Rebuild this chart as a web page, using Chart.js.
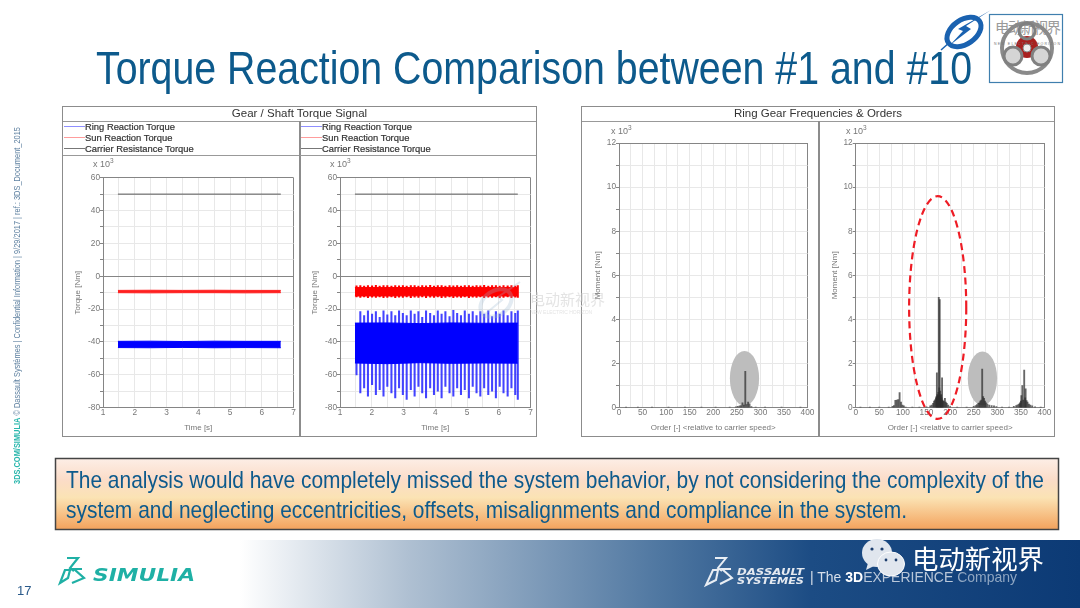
<!DOCTYPE html>
<html>
<head>
<meta charset="utf-8">
<script src="https://cdn.jsdelivr.net/npm/chart.js@4"></script>
<style>
html,body{margin:0;padding:0;background:#fff;overflow:hidden}
#page{position:relative;width:1080px;height:608px;font-family:"Liberation Sans",Arial,sans-serif;filter:blur(.3px)}
#page svg{position:absolute;left:0;top:0}
canvas{position:absolute}
.panel{position:absolute;border:1.5px solid #8c8c8c;background:#fff;box-sizing:border-box}
.head{position:absolute;left:0;right:0;top:0;height:14px;border-bottom:1px solid #999;text-align:center;font-size:11.5px;line-height:13px;color:#333}
.split{position:absolute;top:14px;bottom:0;width:1.5px;background:#8c8c8c}
.legend{position:absolute;top:121px;height:34px;width:236px;border-bottom:1px solid #999;font-size:9.4px;color:#333}
.legend div{position:absolute;left:22px;white-space:nowrap;line-height:11px;-webkit-text-stroke:.2px #333}
.legend i{position:absolute;left:-21px;top:5px;width:21px;height:1px}
.exp{position:absolute;font-size:9px;color:#777;white-space:nowrap}
.exp sup{font-size:6.5px;line-height:0}
.mark{position:absolute;white-space:nowrap;color:#e4e4e4}
</style>
</head>
<body>
<div id="page">
<svg width="1080" height="608" xmlns="http://www.w3.org/2000/svg">
  <defs>
    <linearGradient id="boxFill" x1="0" y1="0" x2="0" y2="1">
      <stop offset="0" stop-color="#fdeee6"/><stop offset=".3" stop-color="#fbdcc8"/>
      <stop offset=".55" stop-color="#fbe3b4"/><stop offset="1" stop-color="#f3a25c"/>
    </linearGradient>
    <linearGradient id="footFill" x1="0" y1="0" x2="1" y2="0">
      <stop offset="0" stop-color="#ffffff"/><stop offset=".2" stop-color="#afc0d2"/>
      <stop offset=".5" stop-color="#4f77a1"/><stop offset=".68" stop-color="#1c4c84"/><stop offset="1" stop-color="#0c3a75"/>
    </linearGradient>
  </defs>
  <text x="96" y="84" font-size="47" fill="#0d5a8c" textLength="876" lengthAdjust="spacingAndGlyphs">Torque Reaction Comparison between #1 and #10</text>

  <!-- top right logo -->
  <ellipse cx="964" cy="32" rx="19" ry="12" transform="rotate(-35 964 32)" fill="none" stroke="#1a62b0" stroke-width="5"/>
  <path d="M991 10 L966 26 L971 29 L950 45 L963 31 L958 29 Z" fill="#1a62b0"/>
  <path d="M950 42 L941 50" stroke="#1a62b0" stroke-width="1.5"/>
  <rect x="989.5" y="14.5" width="73" height="68" fill="#fff" stroke="#3f7fae" stroke-width="1.2"/>
  <text x="995" y="33" font-size="14.5" fill="#9a9a9a" font-family="Noto Sans CJK SC" textLength="66">电动新视界</text>
  <circle cx="1027" cy="48" r="25" fill="none" stroke="#8a8a8a" stroke-width="4"/>
  <circle cx="1027" cy="47" r="11" fill="#a8201f"/>
  <circle cx="1027" cy="31" r="8" fill="none" stroke="#808080" stroke-width="3"/>
  <circle cx="1013" cy="56" r="9" fill="#d5d5d5" stroke="#808080" stroke-width="3"/>
  <circle cx="1041" cy="56" r="9" fill="#d5d5d5" stroke="#808080" stroke-width="3"/>
  <circle cx="1027" cy="48" r="4" fill="#eee" stroke="#888"/>
  <text x="994" y="45" font-size="3.5" fill="#777" textLength="66">NEW ELECTRIC HORIZON</text>

  <!-- side note -->
  <text transform="translate(20,484) rotate(-90)" font-size="8.5" fill="#5c7f9f" textLength="357" lengthAdjust="spacingAndGlyphs"><tspan fill="#2bb7ad" font-weight="bold">3DS.COM/SIMULIA</tspan> © Dassault Systèmes | Confidential Information | 9/29/2017 | ref.: 3DS_Document_2015</text>

  <!-- message box -->
  <rect x="55.5" y="458.5" width="1003" height="71" fill="url(#boxFill)" stroke="#444" stroke-width="1.5"/>
  <text x="66" y="488" font-size="24" fill="#0d5a8c" textLength="978" lengthAdjust="spacingAndGlyphs">The analysis would have completely missed the system behavior, by not considering the complexity of the</text>
  <text x="66" y="518" font-size="24" fill="#0d5a8c" textLength="841" lengthAdjust="spacingAndGlyphs">system and neglecting eccentricities, offsets, misalignments and compliance in the system.</text>

  <!-- footer -->
  <rect x="240" y="540" width="840" height="68" fill="url(#footFill)"/>
  <text x="17" y="595" font-size="13" fill="#2a5a8a">17</text>
  <g fill="none" stroke="#1fb0a5" stroke-width="2.2">
    <path d="M67 558 L78 558 L70 568 L74 571"/><path d="M65 570 L60 583 L68 578 L70 570 Z"/><path d="M82 569 L74 569 L84 578 L72 583"/>
  </g>
  <text x="93" y="581" font-size="17" font-weight="bold" font-style="italic" font-family="DejaVu Sans" fill="#1fb0a5" textLength="102" lengthAdjust="spacingAndGlyphs">SIMULIA</text>
  <g fill="none" stroke="#e9eef4" stroke-width="2">
    <path d="M715 558 L726 558 L718 568 L722 571"/><path d="M713 570 L706 585 L716 580 L718 570 Z"/><path d="M731 569 L722 569 L732 578 L720 584"/>
  </g>
  <text x="737" y="574.5" font-size="9" font-weight="bold" font-style="italic" font-family="DejaVu Sans" fill="#e4e9f0" textLength="67" lengthAdjust="spacingAndGlyphs">DASSAULT</text>
  <text x="737" y="583.5" font-size="9" font-weight="bold" font-style="italic" font-family="DejaVu Sans" fill="#e4e9f0" textLength="67" lengthAdjust="spacingAndGlyphs">SYSTEMES</text>
  <text x="810" y="582" font-size="15" fill="#d7dfea" textLength="207" lengthAdjust="spacingAndGlyphs">| The <tspan font-weight="bold" fill="#fff">3D</tspan><tspan fill="#b9c7d9">EXPERIENCE</tspan><tspan fill="#8fa6c2"> Company</tspan></text>
  <ellipse cx="877" cy="553" rx="15" ry="14" fill="#e0e6ee"/>
  <path d="M868 563 L866 570 L874 566 Z" fill="#e0e6ee"/>
  <ellipse cx="891" cy="564" rx="13.5" ry="12" fill="#e0e6ee" stroke="#fff"/>
  <circle cx="872" cy="549" r="1.6" fill="#1d3f6e"/><circle cx="882" cy="549" r="1.6" fill="#1d3f6e"/>
  <circle cx="886" cy="560" r="1.4" fill="#1d3f6e"/><circle cx="896" cy="560" r="1.4" fill="#1d3f6e"/>
  <text x="912" y="569" font-size="26.4" fill="#fff" font-family="Noto Sans CJK SC">电动新视界</text>
</svg>

<div class="panel" style="left:62px;top:106px;width:475px;height:331px">
  <div class="head">Gear / Shaft Torque Signal</div>
  <div class="split" style="left:236px"></div>
</div>
<div class="panel" style="left:581px;top:106px;width:474px;height:331px">
  <div class="head">Ring Gear Frequencies &amp; Orders</div>
  <div class="split" style="left:236px"></div>
</div>
<div class="legend" style="left:63px">
  <div style="top:0"><i style="background:#8f8fff"></i>Ring Reaction Torque</div>
  <div style="top:11px"><i style="background:#ff9c9c"></i>Sun Reaction Torque</div>
  <div style="top:22px"><i style="background:#777"></i>Carrier Resistance Torque</div>
</div>
<div class="legend" style="left:300px">
  <div style="top:0"><i style="background:#8f8fff"></i>Ring Reaction Torque</div>
  <div style="top:11px"><i style="background:#ff9c9c"></i>Sun Reaction Torque</div>
  <div style="top:22px"><i style="background:#777"></i>Carrier Resistance Torque</div>
</div>
<span class="exp" style="left:93px;top:159px">x 10<sup>3</sup></span>
<span class="exp" style="left:330px;top:159px">x 10<sup>3</sup></span>
<span class="exp" style="left:611px;top:126px">x 10<sup>3</sup></span>
<span class="exp" style="left:846px;top:126px">x 10<sup>3</sup></span>

<!-- watermark text sits under the chart canvases -->
<span class="mark" style="left:530px;top:290px;font-size:15px;font-family:'Noto Sans CJK SC';line-height:17px">电动新视界</span>
<span class="mark" style="left:530px;top:309px;font-size:5px;line-height:6px">NEW ELECTRIC HORIZON</span>

<canvas id="c1" width="235" height="279" style="left:63px;top:156px"></canvas>
<canvas id="c2" width="235" height="279" style="left:300px;top:156px"></canvas>
<canvas id="c3" width="235" height="313" style="left:582px;top:122px"></canvas>
<canvas id="c4" width="235" height="313" style="left:819px;top:122px"></canvas>

<svg width="1080" height="608" xmlns="http://www.w3.org/2000/svg" style="pointer-events:none">
  <g opacity=".28">
    <ellipse cx="496" cy="303" rx="17" ry="12" transform="rotate(-35 496 303)" fill="none" stroke="#9ab7cf" stroke-width="4"/>
    <path d="M520 282 L498 297 L502 300 L484 315" fill="none" stroke="#9ab7cf" stroke-width="2"/>
  </g>
</svg>
</div>

<script>
// time signals, x 10^3 Nm
const carrierTime = [1.47, 6.6];
const carrierTorque = [50, 50];

const bandTime = [1.47, 2.5, 3.5, 4.5, 5.5, 6.6];
const ring1Top = [-39.6, -39.5, -39.7, -39.5, -39.6, -39.6];
const ring1Bottom = [-43.4, -43.5, -43.3, -43.5, -43.4, -43.5];
const sun1Top = [-8.6, -8.5, -8.6, -8.5, -8.6, -8.6];
const sun1Bottom = [-10, -10.1, -10, -10, -10.1, -10];

const ring2Top = [-28.5, -28.4, -28.8, -28.4, -28.6, -28.5];
const ring2Bottom = [-52.8, -53.2, -52.6, -53, -52.8, -52.9];
const sun2Top = [-6.8, -6.8, -6.9, -6.8, -6.8, -6.8];
const sun2Bottom = [-12, -12, -11.9, -12, -12, -12];

const spikeTime = [1.52,1.64,1.76,1.88,2.01,2.13,2.25,2.37,2.49,2.62,2.74,2.86,2.98,3.1,3.23,3.35,3.47,3.59,3.71,3.84,3.96,4.08,4.2,4.32,4.45,4.57,4.69,4.81,4.93,5.06,5.18,5.3,5.42,5.54,5.67,5.79,5.91,6.03,6.15,6.28,6.4,6.52,6.6];
const ringSpikeTop = [-30,-21.5,-24,-21,-23,-21.5,-25,-21,-23.5,-21.5,-24,-21,-22.5,-24,-21,-23,-21.5,-25,-21,-22.5,-24,-21,-23,-21.5,-24.5,-20.8,-22.5,-24,-21,-23,-21.5,-24,-21.5,-23,-21,-24.5,-21.5,-23,-21,-24,-21.5,-22.5,-21];
const ringSpikeBottom = [-60,-71,-68,-73,-66,-72,-69,-73,-67,-71,-74,-68,-72,-75,-69,-73,-67,-71,-74,-68,-72,-70,-74,-67,-71,-73,-68,-72,-69,-74,-67,-71,-73,-68,-72,-70,-74,-67,-71,-73,-68,-72,-75];
const sunSpikeTop = [-5.8,-5.6,-6,-5.6,-5.8,-5.5,-6,-5.7,-5.6,-5.9,-5.6,-5.8,-5.6,-6,-5.7,-5.6,-5.9,-5.6,-5.8,-5.5,-6,-5.7,-5.6,-5.9,-5.6,-5.8,-5.6,-6,-5.7,-5.6,-5.9,-5.6,-5.8,-5.5,-6,-5.7,-5.6,-5.9,-5.6,-5.8,-5.6,-5.9,-5.7];
const sunSpikeBottom = [-12.6,-12.9,-12.5,-13,-12.7,-12.9,-12.5,-13,-12.8,-12.6,-13,-12.7,-12.9,-12.5,-13,-12.7,-12.9,-12.6,-13,-12.7,-12.9,-12.5,-13,-12.8,-12.6,-13,-12.7,-12.9,-12.5,-13,-12.7,-12.9,-12.6,-13,-12.7,-12.9,-12.5,-13,-12.8,-12.6,-13,-12.7,-12.9];

// order spectra, x 10^3 Nm
const orders1 = [15,40,70,105,140,175,205,235,248,252,256,259,262,265,268,271,274,277,281,290,310,345,385];
const moments1 = [.02,.02,.02,.02,.03,.03,.02,.02,.04,.06,.08,.1,.22,.12,1.65,.14,.25,.16,.05,.03,.02,.02,.02];

const orders2 = [10,30,50,70,78,81,84,87,90,93,96,99,102,106,120,135,150,158,161,164,166,168,170,171,172,173,174,175,176,177,178,179,180,181,182,183,184,185,187,189,191,193,196,200,215,235,250,254,257,260,262,264,266,268,270,272,274,276,279,283,288,293,298,310,325,335,340,343,346,348,350,351,353,355,357,359,360,362,364,367,370,374,380,392];
const moments2 = [.02,.02,.03,.03,.06,.1,.33,.35,.37,.68,.25,.12,.08,.03,.02,.03,.04,.08,.12,.2,.3,.36,.45,.5,1.58,.6,.55,.7,5,.9,4.9,.75,.55,.6,.45,1.35,.35,.3,.28,.42,.25,.2,.12,.05,.03,.03,.06,.1,.14,.2,.22,.3,.35,1.75,.5,.42,.3,.22,.16,.12,.1,.08,.05,.03,.03,.06,.1,.13,.16,.22,.3,.55,1,.35,1.7,.45,.85,.32,.25,.16,.12,.08,.04,.02];

const gridColor = '#e8e8e8';
const axisColor = '#858585';
const tickColor = '#777';
const tickFont = { size: 8.3, family: 'Liberation Sans' };
const titleFont = { size: 8, family: 'Liberation Sans' };

function edgeGrid(min, max) {
  return ctx => (ctx.tick && (ctx.tick.value === min || ctx.tick.value === max)) ? axisColor : gridColor;
}

function points(xs, ys) {
  return xs.map((x, i) => ({ x: x, y: ys[i] }));
}

function ranges(xs, lows, highs) {
  return xs.map((x, i) => ({ x: x, y: [lows[i], highs[i]] }));
}

function band(top, bottom, color) {
  return [
    { data: points(bandTime, top), borderColor: color, borderWidth: 1, pointRadius: 0, fill: '+1', backgroundColor: color },
    { data: points(bandTime, bottom), borderColor: color, borderWidth: 1, pointRadius: 0, fill: false }
  ];
}

function spikes(lows, highs, color) {
  return { type: 'bar', data: ranges(spikeTime, lows, highs), backgroundColor: color, barThickness: 1.4, grouped: false };
}

function scales(cfg) {
  return {
    x: {
      type: 'linear', min: cfg.xMin, max: cfg.xMax, offset: false,
      afterFit: s => { s.height = cfg.xHeight; },
      title: { display: true, text: cfg.xTitle, color: tickColor, font: titleFont, padding: { top: 0, bottom: 2 } },
      border: { color: axisColor },
      // bar datasets switch the grid to offset mode otherwise
      grid: { offset: false, color: edgeGrid(cfg.xMin, cfg.xMax), tickColor: axisColor, tickLength: 0 },
      afterBuildTicks: s => { s.ticks = cfg.xTicks.map(v => ({ value: v })); },
      ticks: {
        color: tickColor, font: tickFont, maxRotation: 0, autoSkip: false, padding: 0,
        callback: v => cfg.xLabels.includes(v) ? String(v) : ''
      }
    },
    y: {
      min: cfg.yMin, max: cfg.yMax,
      afterFit: s => { s.width = cfg.yWidth; },
      title: { display: true, text: cfg.yTitle, color: tickColor, font: titleFont, padding: { top: cfg.yTitlePad, bottom: 0 } },
      border: { color: axisColor },
      grid: {
        color: ctx => (ctx.tick && ctx.tick.value === 0) || (ctx.tick && ctx.tick.value === cfg.yMax) ? axisColor : gridColor,
        tickColor: axisColor, tickLength: 3
      },
      afterBuildTicks: s => { s.ticks = cfg.yTicks.map(v => ({ value: v })); },
      ticks: {
        color: tickColor, font: tickFont, autoSkip: false, padding: 0,
        callback: v => cfg.yLabels.includes(v) ? String(v) : ''
      }
    }
  };
}

// shaded / dashed ellipses given in axis units
function ellipsePlugin(shade, dashed) {
  return {
    id: 'ellipses',
    beforeDatasetsDraw(chart) {
      shade.forEach(e => drawEllipse(chart, e, true));
    },
    afterDatasetsDraw(chart) {
      dashed.forEach(e => drawEllipse(chart, e, false));
    }
  };
}

function drawEllipse(chart, e, filled) {
  const { x, y } = chart.scales;
  const c = chart.ctx;
  const cx = x.getPixelForValue(e.order);
  const cy = y.getPixelForValue(e.moment);
  const rx = Math.abs(x.getPixelForValue(e.order + e.orderR) - cx);
  const ry = Math.abs(y.getPixelForValue(e.moment + e.momentR) - cy);
  c.save();
  c.beginPath();
  c.ellipse(cx, cy, rx, ry, 0, 0, Math.PI * 2);
  if (filled) {
    c.fillStyle = e.color;
    c.fill();
  } else {
    c.strokeStyle = e.color;
    c.lineWidth = 2.2;
    c.setLineDash([7, 4.5]);
    c.stroke();
  }
  c.restore();
}

const timeTicks = [1,1.5,2,2.5,3,3.5,4,4.5,5,5.5,6,6.5,7];
const timeLabels = [1,2,3,4,5,6,7];
const torqueTicks = [-80,-70,-60,-50,-40,-30,-20,-10,0,10,20,30,40,50,60];
const torqueLabels = [-80,-60,-40,-20,0,20,40,60];
const orderTicks = [0,25,50,75,100,125,150,175,200,225,250,275,300,325,350,375,400];
const orderLabels = [0,50,100,150,200,250,300,350,400];
const momentTicks = [0,1,2,3,4,5,6,7,8,9,10,11,12];
const momentLabels = [0,2,4,6,8,10,12];

function torqueChart(id, datasets, yWidth) {
  new Chart(document.getElementById(id), {
    type: 'line',
    data: { datasets: datasets },
    options: {
      responsive: false, animation: false,
      layout: { padding: { top: 21.7, right: 4.5, left: 0, bottom: 0 } },
      plugins: { legend: { display: false }, tooltip: { enabled: false } },
      scales: scales({
        xMin: 1, xMax: 7, xTicks: timeTicks, xLabels: timeLabels, xTitle: 'Time [s]', xHeight: 27.3,
        yMin: -80, yMax: 60, yTicks: torqueTicks, yLabels: torqueLabels, yTitle: 'Torque [Nm]', yWidth: yWidth, yTitlePad: 10
      })
    }
  });
}

function spectrumChart(id, orders, moments, yWidth, shade, dashed) {
  new Chart(document.getElementById(id), {
    type: 'bar',
    data: { datasets: [{ data: points(orders, moments), backgroundColor: 'rgba(45,45,45,.72)', barThickness: 1.2, grouped: false }] },
    options: {
      responsive: false, animation: false,
      layout: { padding: { top: 21, right: 9.5, left: 0, bottom: 0 } },
      plugins: { legend: { display: false }, tooltip: { enabled: false } },
      scales: scales({
        xMin: 0, xMax: 400, xTicks: orderTicks, xLabels: orderLabels, xTitle: 'Order [-] <relative to carrier speed>', xHeight: 27.3,
        yMin: 0, yMax: 12, yTicks: momentTicks, yLabels: momentLabels, yTitle: 'Moment [Nm]', yWidth: yWidth, yTitlePad: 11
      })
    },
    plugins: [ellipsePlugin(shade, dashed)]
  });
}

const carrierLine = { data: points(carrierTime, carrierTorque), borderColor: '#555', borderWidth: 1, pointRadius: 0, fill: false };

torqueChart('c1', [carrierLine].concat(band(ring1Top, ring1Bottom, '#0000ff'), band(sun1Top, sun1Bottom, '#ff2020')), 40);
torqueChart('c2', [carrierLine].concat(
  band(ring2Top, ring2Bottom, '#0000ff'),
  band(sun2Top, sun2Bottom, '#ff0000'),
  [spikes(ringSpikeBottom, ringSpikeTop, 'rgba(20,20,255,.8)'), spikes(sunSpikeBottom, sunSpikeTop, '#ff0000')]
), 40);

spectrumChart('c3', orders1, moments1, 37,
  [{ order: 266.3, moment: 1.33, orderR: 31, momentR: 1.24, color: '#bdbdbd' }], []);
spectrumChart('c4', orders2, moments2, 36.7,
  [{ order: 268.5, moment: 1.33, orderR: 31, momentR: 1.22, color: '#bdbdbd' }],
  [{ order: 173.7, moment: 4.54, orderR: 60.5, momentR: 5.05, color: '#ee1c25' }]);
</script>
</body>
</html>
